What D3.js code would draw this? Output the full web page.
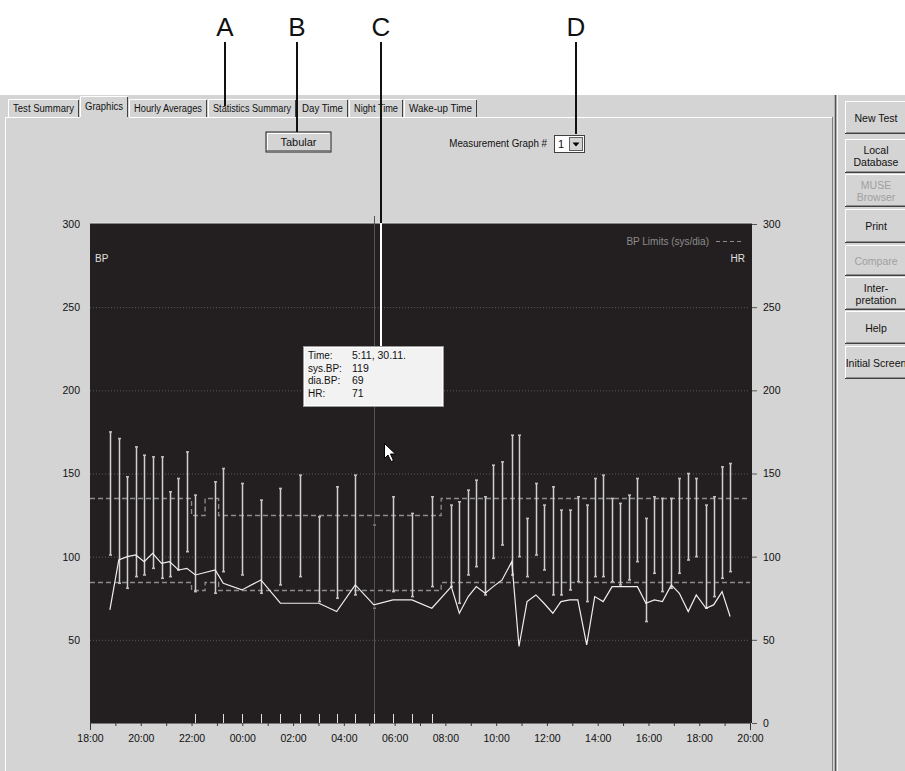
<!DOCTYPE html>
<html><head><meta charset="utf-8">
<script src="https://cdn.jsdelivr.net/npm/d3@7"></script>
<style>
body{margin:0;background:#fff;}
svg{display:block;font-family:"Liberation Sans",Arial,sans-serif;}
</style></head><body><svg id="c" width="905" height="771"></svg>
<script>
// ---------------- DATA ----------------
const measureTimes = ["18:47","19:08","19:28","19:48","20:08","20:28","20:49","21:08","21:29","21:49",
  "22:09","22:56","23:15","23:59","00:44","01:30","02:16","03:01","03:43","04:27",
  "05:11","05:56","06:41","07:28","08:14","08:33","08:54","09:13","09:34","09:53",
  "10:14","10:37","10:54","11:13","11:34","11:53","12:14","12:33","12:54","13:13",
  "13:34","13:53","14:13","14:34","14:53","15:14","15:34","15:54","16:14","16:33",
  "16:54","17:13","17:34","17:53","18:16","18:34","18:54","19:13"];
const sysBP = [175,171,148,166,161,160,160,139,147,163,
  137,145,153,144,134,141,149,124,142,149,
  119,136,126,136,131,133,140,146,136,155,
  157,173,173,123,144,131,142,128,128,136,
  131,147,149,135,132,137,147,123,136,135,
  135,147,150,147,131,136,154,156];
const diaBP = [101,84,81,88,89,93,87,88,92,103,
  79,78,91,89,78,83,88,73,75,77,
  69,79,76,82,82,72,89,94,77,99,
  107,89,100,88,101,92,77,77,80,85,
  73,88,88,85,83,86,97,61,90,79,
  81,90,98,100,69,76,87,91];
const heartRate = [68,98,100,101,97,102,96,97,92,93,
  89,92,84,80,86,72,72,72,67,83,
  71,74,74,69,82,66,76,82,78,82,
  86,97,46,73,77,72,66,73,74,74,
  47,76,73,82,82,82,82,72,74,73,
  83,78,67,77,69,71,79,64];
const xTickLabels = ["18:00","20:00","22:00","00:00","02:00","04:00","06:00","08:00","10:00","12:00","14:00","16:00","18:00","20:00"];
const yTickValues = [0,50,100,150,200,250,300];
const limitTimes = ["18:00","22:00","22:32","23:04","07:50","20:00"];
const sysLimits = [135,125,135,125,135];
const diaLimits = [85,80,85,80,85];
const selectedTime = "05:11";
const tabNames = ["Test Summary","Graphics","Hourly Averages","Statistics Summary","Day Time","Night Time","Wake-up Time"];
const sideButtons = [["New Test"],["Local","Database"],["MUSE","Browser"],["Print"],["Compare"],["Inter-","pretation"],["Help"],["Initial Screen"]];
const disabledButtons = ["MUSE","Compare"];
const tooltipLabels = ["Time:","sys.BP:","dia.BP:","HR:"];
const tooltipValues = ["5:11, 30.11.","119","69","71"];
const calloutLetters = ["A","B","C","D"];

// ---------------- LAYOUT ----------------
const svg = d3.select("#c");
const GRAY = "#d4d4d4";
function parseSeq(list){
  let day = 29, prev = -1;
  return list.map(s => {
    const [h,m] = s.split(":").map(Number);
    const mins = h*60+m;
    if (prev >= 0 && mins < prev) day++;
    prev = mins;
    return new Date(2008,10,day,h,m);
  });
}
// draw text squeezed horizontally to a target width (anchor: middle or end)
function squeezedText(parent, str, cx, by, width, size, anchor, fill){
  const t = parent.append("text").attr("font-size",size).attr("fill",fill||"#111").attr("text-anchor",anchor).text(str);
  const w = t.node().getComputedTextLength();
  const s = Math.min(1, width / w);
  t.attr("transform",`translate(${cx},${by}) scale(${s},1)`);
  return t;
}
const tickDates = parseSeq(xTickLabels);
const mDates = parseSeq(measureTimes);
const limDates = parseSeq(limitTimes);
const L = 90, R = 750, T = 224, B = 723;
const x = d3.scaleTime().domain([tickDates[0], tickDates[tickDates.length-1]]).range([L,R]);
const y = d3.scaleLinear().domain([0,300]).range([B,T]);

// backgrounds
svg.append("rect").attr("x",0).attr("y",0).attr("width",905).attr("height",771).attr("fill","#fff");
svg.append("rect").attr("x",0).attr("y",95).attr("width",905).attr("height",676).attr("fill",GRAY);

// tabs
const tabX = [8,80,129,208,297,349,404,478];
tabNames.forEach((n,i)=>{
  const sel = i===1;
  const x0 = tabX[i], x1 = tabX[i+1]-1, y0 = sel?96:99, y1 = 117;
  const g = svg.append("g");
  g.append("rect").attr("x",x0).attr("y",y0).attr("width",x1-x0).attr("height",y1-y0+(sel?1:0)).attr("fill",GRAY);
  g.append("path").attr("d",`M${x0+0.5},${y1}V${y0+0.5}H${x1-0.5}`).attr("fill","none").attr("stroke","#fff");
  g.append("path").attr("d",`M${x1-0.5},${y0+1}V${y1}`).attr("fill","none").attr("stroke","#404040");
  squeezedText(g, n, (x0+x1)/2, sel?110:112, (x1-x0)-10, 11, "middle");
});
// panel border
svg.append("path").attr("d",`M5.5,771V117.5H79.5M129.5,117.5H832`).attr("fill","none").attr("stroke","#fff");
svg.append("path").attr("d",`M832.5,117V771`).attr("fill","none").attr("stroke","#808080");

// sidebar
svg.append("line").attr("x1",835.5).attr("x2",835.5).attr("y1",95).attr("y2",771).attr("stroke","#505050").attr("stroke-width",1.5);
svg.append("line").attr("x1",837.5).attr("x2",837.5).attr("y1",95).attr("y2",771).attr("stroke","#f4f4f4");
const btnY = [[101,134],[139,173],[174,207],[209,243],[245,276],[277,310],[311,344],[346,379]];
sideButtons.forEach((lines,i)=>{
  const [y0,y1] = btnY[i];
  const g = svg.append("g");
  g.append("path").attr("d",`M845.5,${y1}V${y0+0.5}H905`).attr("fill","none").attr("stroke","#fff");
  g.append("path").attr("d",`M845,${y1-0.5}H905`).attr("fill","none").attr("stroke","#404040");
  g.append("path").attr("d",`M846,${y1-1.5}H905`).attr("fill","none").attr("stroke","#909090");
  const dis = disabledButtons.includes(lines[0]);
  const cy = (y0+y1)/2;
  lines.forEach((t,j)=>{
    g.append("text").attr("x",876).attr("y",cy+4-(lines.length-1)*6+j*12).attr("text-anchor","middle")
      .attr("font-size",10.5).attr("fill",dis?"#a0a0a0":"#111").text(t);
  });
});

// Tabular button
svg.append("rect").attr("x",266).attr("y",132).attr("width",65).attr("height",20).attr("fill",GRAY).attr("stroke","#202020");
svg.append("path").attr("d","M267.5,150V133.5H329").attr("fill","none").attr("stroke","#fff");
svg.append("path").attr("d","M267,150.5H330.5V133").attr("fill","none").attr("stroke","#808080");
svg.append("text").attr("x",298.5).attr("y",146).attr("text-anchor","middle").attr("font-size",11).attr("fill","#111").text("Tabular");

// Measurement graph selector
squeezedText(svg, "Measurement Graph  #", 547, 147, 98, 10.5, "end");
svg.append("rect").attr("x",554.5).attr("y",135.5).attr("width",30).attr("height",17).attr("fill","#fff").attr("stroke","#404040");
svg.append("text").attr("x",558).attr("y",148).attr("font-size",11).attr("fill","#111").text("1");
svg.append("rect").attr("x",569.5).attr("y",137.5).attr("width",13).attr("height",13).attr("fill",GRAY).attr("stroke","#606060");
svg.append("path").attr("d","M572.5,142.5h7l-3.5,4z").attr("fill","#000");

// ---------------- CHART ----------------
svg.append("rect").attr("x",L).attr("y",T-1).attr("width",R-L+2).attr("height",B-T+1).attr("fill","#231f20");
svg.append("line").attr("x1",L).attr("x2",R+2).attr("y1",T-1).attr("y2",T-1).attr("stroke","#e8e8e8");

// grid
svg.append("g").selectAll("line").data(yTickValues.filter(v=>v>0&&v<300)).join("line")
  .attr("x1",L).attr("x2",R).attr("y1",d=>y(d)+0.5).attr("y2",d=>y(d)+0.5)
  .attr("stroke","#5a5a5a").attr("stroke-dasharray","1,2");

// limits
function limitPts(vals){
  const pts = vals.map((v,i)=>[limDates[i],v]);
  pts.push([limDates[limDates.length-1], vals[vals.length-1]]);
  return pts;
}
const stepLine = d3.line().x(d=>x(d[0])).y(d=>Math.round(y(d[1]))+0.5).curve(d3.curveStepAfter);
[sysLimits,diaLimits].forEach(v=>{
  svg.append("path").attr("d",stepLine(limitPts(v))).attr("fill","none")
    .attr("stroke","#8c8c8c").attr("stroke-width",1.3).attr("stroke-dasharray","5,3");
});

// crosshair
const selIdx = measureTimes.indexOf(selectedTime);
const selX = Math.round(x(mDates[selIdx]))+0.5;
svg.append("line").attr("x1",selX).attr("x2",selX).attr("y1",216).attr("y2",B).attr("stroke","#555").attr("stroke-width",1);

// bars
const bars = svg.append("g");
mDates.forEach((d,i)=>{
  const bx = Math.round(x(d))+0.5;
  if (i !== selIdx) {
    bars.append("line").attr("x1",bx).attr("x2",bx).attr("y1",y(sysBP[i])).attr("y2",y(diaBP[i]))
      .attr("stroke","#d0d0d0").attr("stroke-width",1.5);
  }
  [sysBP[i],diaBP[i]].forEach(v=>{
    bars.append("line").attr("x1",bx-1.5).attr("x2",bx+1.5).attr("y1",y(v)).attr("y2",y(v))
      .attr("stroke",i===selIdx?"#777":"#bdbdbd").attr("stroke-width",1.6);
  });
});

// HR line
svg.append("path").datum(heartRate).attr("fill","none").attr("stroke","#eeeeee").attr("stroke-width",1.2)
  .attr("d",d3.line().x((d,i)=>x(mDates[i])).y(d=>y(d)));

// night measurement ticks
mDates.forEach((d,i)=>{
  const k = d3.bisectRight(limDates,d)-1;
  if (sysLimits[k] < d3.max(sysLimits)) {
    const bx = Math.round(x(d))+0.5;
    svg.append("line").attr("x1",bx).attr("x2",bx).attr("y1",B-9).attr("y2",B).attr("stroke","#e0e0e0").attr("stroke-width",1);
  }
});

// axes
const hours = d3.timeHour.range(tickDates[0], d3.timeMinute.offset(tickDates[tickDates.length-1],1));
const labelSet = new Set(tickDates.map(d=>+d));
const xAxis = svg.append("g").attr("transform",`translate(0,${B})`)
  .call(d3.axisBottom(x).tickValues(hours).tickSize(3).tickPadding(9)
    .tickFormat(d=>labelSet.has(+d)?d3.timeFormat("%H:%M")(d):""));
xAxis.select(".domain").attr("stroke","#777");
xAxis.selectAll(".tick line").attr("stroke","#333");
xAxis.selectAll("text").attr("font-size",10.5).attr("fill","#111").attr("font-family","Liberation Sans, Arial");
[tickDates[0], tickDates[tickDates.length-1]].forEach(d=>{
  svg.append("line").attr("x1",x(d)+0.5).attr("x2",x(d)+0.5).attr("y1",B-2).attr("y2",B+7).attr("stroke","#333");
});

const yLeft = svg.append("g").attr("transform",`translate(${L},0)`)
  .call(d3.axisLeft(y).tickValues(yTickValues.filter(v=>v>0)).tickSize(0).tickPadding(10));
yLeft.select(".domain").remove();
yLeft.selectAll("text").attr("font-size",10.5).attr("fill","#111").attr("font-family","Liberation Sans, Arial");

const yRight = svg.append("g").attr("transform",`translate(${R+2},0)`)
  .call(d3.axisRight(y).tickValues(yTickValues).tickSize(5).tickPadding(6));
yRight.select(".domain").remove();
yRight.selectAll(".tick line").attr("stroke","#555");
yRight.selectAll("text").attr("font-size",10.5).attr("fill","#111").attr("font-family","Liberation Sans, Arial");

// legend & side labels
svg.append("text").attr("x",709).attr("y",245).attr("text-anchor","end").attr("font-size",10).attr("fill","#8c8c8c").text("BP Limits (sys/dia)");
svg.append("line").attr("x1",716).attr("x2",744).attr("y1",241.5).attr("y2",241.5).attr("stroke","#8c8c8c").attr("stroke-dasharray","4,3");
svg.append("text").attr("x",95).attr("y",262).attr("font-size",10).attr("fill","#e0e0e0").text("BP");
svg.append("text").attr("x",745).attr("y",262).attr("text-anchor","end").attr("font-size",10).attr("fill","#e0e0e0").text("HR");

// tooltip
const tg = svg.append("g");
tg.append("rect").attr("x",303.5).attr("y",346.5).attr("width",140).attr("height",60).attr("fill","#f2f2f2").attr("stroke","#9a9a9a");
tg.append("rect").attr("x",304.5).attr("y",347.5).attr("width",138).attr("height",58).attr("fill","none").attr("stroke","#fff");
tooltipLabels.forEach((t,i)=>{
  tg.append("text").attr("x",308).attr("y",359+i*12.5).attr("font-size",10).attr("fill","#111").text(t);
  tg.append("text").attr("x",352).attr("y",359+i*12.5).attr("font-size",10.5).attr("fill","#111").text(tooltipValues[i]);
});

// cursor
svg.append("path").attr("transform","translate(384.5,443.5)")
  .attr("d","M0,0V15L3.5,11.5L6.5,18L9,17L6,10.5H11Z").attr("fill","#fff").attr("stroke","#000").attr("stroke-width",1);

// callouts
const calloutX = [225,297,381,576];
const calloutEnd = [106,132,346,134];
calloutLetters.forEach((c,i)=>{
  svg.append("text").attr("x",calloutX[i]).attr("y",36).attr("text-anchor","middle")
    .attr("font-family","'Liberation Sans Narrow','Liberation Sans',Arial").attr("font-size",26).attr("fill","#111").text(c);
  if (i===2){
    svg.append("line").attr("x1",calloutX[i]).attr("x2",calloutX[i]).attr("y1",42).attr("y2",T-1).attr("stroke","#111").attr("stroke-width",2);
    svg.append("line").attr("x1",calloutX[i]).attr("x2",calloutX[i]).attr("y1",T-1).attr("y2",calloutEnd[i]).attr("stroke","#fff").attr("stroke-width",2);
  } else {
    svg.append("line").attr("x1",calloutX[i]).attr("x2",calloutX[i]).attr("y1",42).attr("y2",calloutEnd[i]).attr("stroke","#111").attr("stroke-width",2);
  }
});
</script></body></html>
